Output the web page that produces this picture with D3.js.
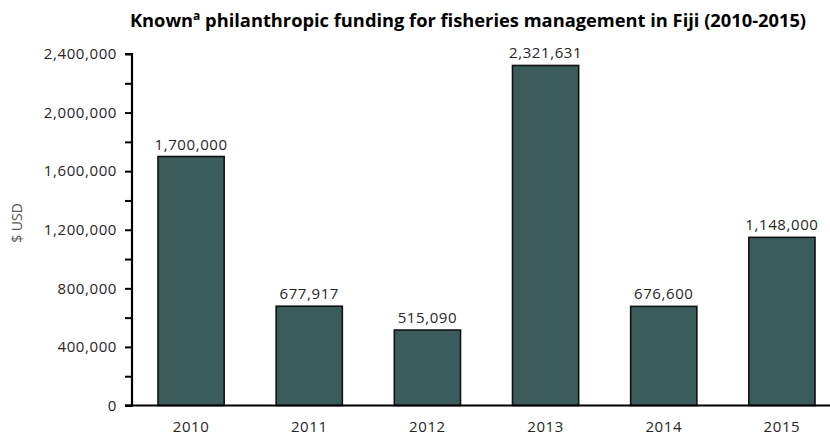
<!DOCTYPE html>
<html><head><meta charset="utf-8">
<script src="https://cdn.jsdelivr.net/npm/d3@7"></script>
<style>body{margin:0;background:#fff}svg{display:block}</style>
</head><body>
<svg id="c" width="830" height="437"></svg>
<script>
const years = ["2010","2011","2012","2013","2014","2015"];
const funding = [1700000, 677917, 515090, 2321631, 676600, 1148000];
const yTicks = [0, 400000, 800000, 1200000, 1600000, 2000000, 2400000];
const yMinorTicks = [200000, 600000, 1000000, 1400000, 1800000, 2200000];
const titleMain = "Known";
const titleSup = "a";
const titleRest = " philanthropic funding for fisheries management in Fiji (2010-2015)";
const yLabel = "$ USD";

const svg = d3.select("#c");
const font = "'Open Sans', sans-serif";
const x0 = 132, x1 = 841, yTop = 54, yBase = 405.5;

const x = d3.scaleBand().domain(years).range([x0, x1]).paddingInner(0.44).paddingOuter(0.22);
const y = d3.scaleLinear().domain([0, 2400000]).range([yBase, yTop]);
const fmt = d3.format(",");

// bars
svg.append("g").selectAll("rect").data(years).join("rect")
  .attr("x", d => x(d)).attr("width", x.bandwidth())
  .attr("y", (d,i) => y(funding[i])).attr("height", (d,i) => yBase - y(funding[i]))
  .attr("fill", "#3a5d5b").attr("stroke", "#111").attr("stroke-width", 1.6);

// value labels
svg.append("g").selectAll("text").data(years).join("text")
  .attr("x", d => x(d) + x.bandwidth()/2)
  .attr("y", (d,i) => y(funding[i]) - 7)
  .attr("text-anchor", "middle")
  .attr("font-family", font).attr("font-size", 15).attr("letter-spacing", 0.6)
  .attr("fill", "#262626")
  .text((d,i) => fmt(funding[i]));

// y axis
const yAxis = svg.append("g").attr("transform", `translate(${x0},0)`)
  .call(d3.axisLeft(y).tickValues(yTicks).tickFormat(fmt).tickSize(7).tickPadding(8));
yAxis.append("g").call(d3.axisLeft(y).tickValues(yMinorTicks).tickFormat("").tickSize(7))
  .select(".domain").remove();
yAxis.selectAll(".domain").attr("stroke", "#000").attr("stroke-width", 2.2);
yAxis.selectAll(".tick line").attr("stroke", "#000").attr("stroke-width", 2);
yAxis.selectAll(".tick text").attr("font-family", font).attr("font-size", 15)
  .attr("letter-spacing", 0.6).attr("fill", "#262626");
yAxis.select(".domain").attr("d", `M-7,${yTop}H0V${yBase}H-7`);

// x axis
const xAxis = svg.append("g").attr("transform", `translate(0,${yBase})`)
  .call(d3.axisBottom(x).tickSize(0).tickPadding(16));
xAxis.select(".domain").attr("stroke", "#000").attr("stroke-width", 2.2)
  .attr("d", `M${x0-7},0H${x1}`);
xAxis.selectAll(".tick text").attr("font-family", font).attr("font-size", 15)
  .attr("letter-spacing", 0.6).attr("fill", "#262626");

// y label
svg.append("text")
  .attr("transform", "translate(22,223) rotate(-90)")
  .attr("text-anchor", "middle")
  .attr("font-family", font).attr("font-size", 14).attr("fill", "#595959")
  .text(yLabel);

// title
const t = svg.append("text")
  .attr("x", 468).attr("y", 27).attr("text-anchor", "middle")
  .attr("font-family", font).attr("font-size", 18.3).attr("font-weight", "bold")
  .attr("fill", "#000");
t.append("tspan").text(titleMain);
t.append("tspan").attr("font-size", 12).attr("dy", -7).text(titleSup);
t.append("tspan").attr("dy", 7).text(titleRest);
</script>
</body></html>
